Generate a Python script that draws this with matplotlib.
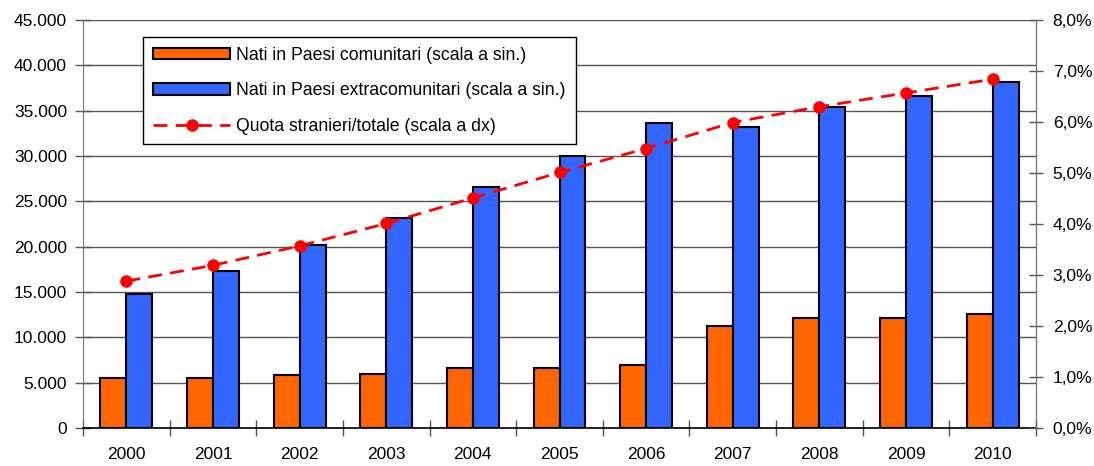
import matplotlib
matplotlib.use("Agg")
import matplotlib.pyplot as plt
import numpy as np
from matplotlib.ticker import FuncFormatter, MultipleLocator

plt.rcParams['font.family'] = ['Liberation Sans', 'DejaVu Sans']

years = ['2000', '2001', '2002', '2003', '2004', '2005', '2006', '2007', '2008', '2009', '2010']
comunitari = [5550, 5550, 5800, 6000, 6650, 6650, 6900, 11250, 12150, 12150, 12550]
extracomunitari = [14750, 17350, 20200, 23150, 26600, 30050, 33600, 33150, 35350, 36650, 38200]
quota = [2.88, 3.19, 3.57, 4.01, 4.51, 5.01, 5.48, 5.99, 6.30, 6.57, 6.84]

label_com = 'Nati in Paesi comunitari (scala a sin.)'
label_ext = 'Nati in Paesi extracomunitari (scala a sin.)'
label_q = 'Quota stranieri/totale (scala a dx)'

W, H = 1094, 466
fig = plt.figure(figsize=(W / 100, H / 100), dpi=100)
ax = fig.add_axes([83 / W, 1 - 428 / H, (1036 - 83) / W, (428 - 20) / H])

x = np.arange(len(years))
bw = 0.3
ax.bar(x - bw / 2, comunitari, bw, color='#ff6600', edgecolor='black', linewidth=1.5,
       label=label_com, zorder=3)
ax.bar(x + bw / 2, extracomunitari, bw, color='#3366ff', edgecolor='black', linewidth=1.5,
       label=label_ext, zorder=3)

ax.set_xlim(-0.5, len(years) - 0.5)
ax.set_ylim(0, 45000)
ax.yaxis.set_major_locator(MultipleLocator(5000))
ax.yaxis.set_major_formatter(FuncFormatter(lambda v, p: f"{int(v):,}".replace(',', '.')))
ax.grid(axis='y', color='#555555', linewidth=1, zorder=0)
ax.set_axisbelow(True)

ax.set_xticks(x)
ax.set_xticklabels(years)
ax.tick_params(axis='x', length=0, labelsize=12.5, pad=14)
ax.set_xticks(np.arange(-0.5, len(years), 1.0), minor=True)
ax.tick_params(axis='x', which='minor', direction='inout', length=12, width=1, color='#555555')
ax.tick_params(axis='y', direction='inout', length=11, width=1, labelsize=12.5, color='#555555', pad=6)

ax.spines['top'].set_visible(False)
ax.spines['left'].set_color('#777777')
ax.spines['bottom'].set_color('black')
ax.spines['bottom'].set_linewidth(1.2)

ax2 = ax.twinx()
ax2.plot(x, quota, color='#ff0000', linestyle=(0, (5, 3)), linewidth=2, marker='o',
         markersize=8, markerfacecolor='#ff0000', markeredgecolor='#ff0000',
         label=label_q, zorder=5)
ax2.set_ylim(0, 8)
ax2.yaxis.set_major_locator(MultipleLocator(1))
ax2.yaxis.set_major_formatter(FuncFormatter(lambda v, p: f"{v:.1f}%".replace('.', ',')))
ax2.tick_params(axis='y', direction='inout', length=10, width=1, labelsize=12.5, color='#555555', pad=7)
ax2.spines['top'].set_visible(False)
ax2.spines['right'].set_color('#777777')
ax2.spines['left'].set_visible(False)
ax2.spines['bottom'].set_visible(False)

h1, l1 = ax.get_legend_handles_labels()
h2, l2 = ax2.get_legend_handles_labels()
leg = ax2.legend(h1 + h2, l1 + l2, loc='upper left',
                 bbox_to_anchor=(143 / W, 1 - 37 / H), bbox_transform=fig.transFigure,
                 fontsize=12.7, frameon=True, fancybox=False, edgecolor='black',
                 framealpha=1, handlelength=4.4, handleheight=0.63, labelspacing=1.05,
                 handletextpad=0.35, borderpad=0.55, borderaxespad=0, numpoints=1)
leg.get_frame().set_linewidth(1)

fig.savefig('out.png', dpi=100)
